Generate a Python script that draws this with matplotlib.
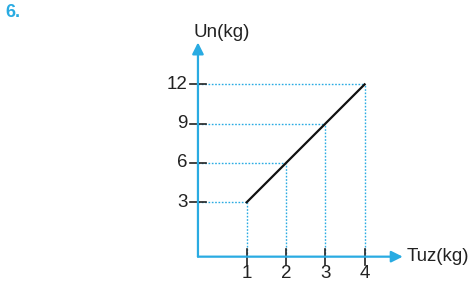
import matplotlib.pyplot as plt

tuz = [1, 2, 3, 4]
un = [3, 6, 9, 12]
xticks = [1, 2, 3, 4]
yticks = [3, 6, 9, 12]

blue = '#29abe2'
plt.rcParams['font.family'] = ['Liberation Sans', 'DejaVu Sans']

fig = plt.figure(figsize=(4.68, 2.83), dpi=100)
ax = fig.add_axes([0, 0, 1, 1])
ax.set_xlim(-5.277, 6.631)
ax.set_ylim(-3.16, 18.44)
ax.axis('off')

x0, y0 = -0.24, -1.15  # where axes cross

# dotted guide lines
for x, y in zip(tuz, un):
    ax.plot([x0, x], [y, y], color=blue, ls=(0, (1.2, 1.2)), lw=1)
    ax.plot([x, x], [y0, y], color=blue, ls=(0, (1.2, 1.2)), lw=1)

# axes with arrows
ax.annotate('', xy=(4.97, y0), xytext=(x0, y0),
            arrowprops=dict(arrowstyle='-|>', color=blue, lw=1.6, mutation_scale=17, shrinkA=0, shrinkB=0))
ax.annotate('', xy=(x0, 15.2), xytext=(x0, y0),
            arrowprops=dict(arrowstyle='-|>', color=blue, lw=1.6, mutation_scale=17, shrinkA=0, shrinkB=0))

fs = 13.5
# ticks
for x in xticks:
    ax.plot([x, x], [y0 - 0.6, y0 + 0.6], color='#222222', lw=1.2)
    ax.text(x, y0 - 0.65, str(x), ha='center', va='top', fontsize=fs, color='#222222')
for y in yticks:
    ax.plot([x0 - 0.2, x0 + 0.2], [y, y], color='#222222', lw=1.2)
    ax.text(x0 - 0.26, y, str(y), ha='right', va='center', fontsize=fs, color='#222222')

ax.plot(tuz, un, color='#111111', lw=1.6)

ax.text(5.07, y0, 'Tuz(kg)', ha='left', va='center', fontsize=fs, color='#222222')
ax.text(0.37, 15.3, 'Un(kg)', ha='center', va='bottom', fontsize=fs, color='#222222')
ax.text(-5.15, 17.45, '6.', ha='left', va='center', fontsize=13, fontweight='bold', color=blue)

fig.savefig('out.png', dpi=100)
